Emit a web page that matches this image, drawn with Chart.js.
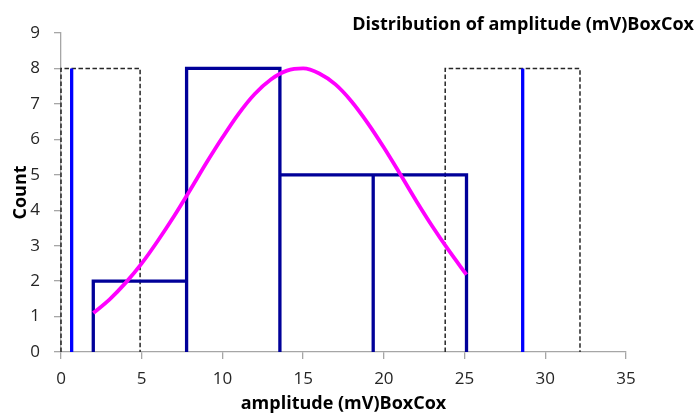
<!DOCTYPE html>
<html><head><meta charset="utf-8">
<script src="https://cdn.jsdelivr.net/npm/chart.js@4.4.0/dist/chart.umd.min.js"></script>
<style>html,body{margin:0;padding:0;background:#fff;}</style>
</head><body>
<canvas id="c" width="699" height="415"></canvas>
<script>
// ---- data ----
const binEdges = [2.0, 7.78, 13.56, 19.34, 25.12];
const binCounts = [2, 8, 5, 5];
const markerLines = [0.66, 28.6];
const markerHeight = 8;
const dashBoxes = [[0, 4.9], [23.8, 32.15]];
const dashHeight = 8;
const curveX = [2.0, 3, 4, 5, 6, 7, 8, 9, 10, 11, 12, 13, 14, 15, 16, 17, 18, 19, 20, 21, 22, 23, 24, 25.12];
const curveY = [1.10, 1.48, 1.95, 2.50, 3.14, 3.83, 4.57, 5.33, 6.05, 6.72, 7.28, 7.69, 7.94, 8.0, 7.86, 7.55, 7.07, 6.46, 5.77, 5.03, 4.27, 3.55, 2.88, 2.18];
const xTicks = [0, 5, 10, 15, 20, 25, 30, 35];
const yTicks = [0, 1, 2, 3, 4, 5, 6, 7, 8, 9];
const chartTitle = 'Distribution of amplitude (mV)BoxCox';
const xTitle = 'amplitude (mV)BoxCox';
const yTitle = 'Count';

// ---- build paths ----
const histPath = [];
for (let i = 0; i < binCounts.length; i++) {
  if (i === 0) histPath.push({x: binEdges[0], y: 0});
  histPath.push({x: binEdges[i], y: binCounts[i]});
  histPath.push({x: binEdges[i + 1], y: binCounts[i]});
  histPath.push({x: binEdges[i + 1], y: 0});
}
const curve = curveX.map((x, i) => ({x, y: curveY[i]}));
const base = {pointRadius: 0, pointHoverRadius: 0, tension: 0, clip: false, fill: false, showLine: true, parsing: false};

const datasets = [];
datasets.push(Object.assign({}, base, {data: curve, borderColor: '#FF00FF', borderWidth: 3.8, cubicInterpolationMode: 'monotone'}));
markerLines.forEach(x => datasets.push(Object.assign({}, base, {data: [{x, y: 0}, {x, y: markerHeight}], borderColor: '#0000FF', borderWidth: 3.3})));
datasets.push(Object.assign({}, base, {data: histPath, borderColor: '#000099', borderWidth: 3.3}));
dashBoxes.forEach(b => datasets.push(Object.assign({}, base, {data: [{x: b[0], y: 0}, {x: b[0], y: dashHeight}, {x: b[1], y: dashHeight}, {x: b[1], y: 0}], borderColor: '#262626', borderWidth: 1.5, borderDash: [4.5, 2.5]})));

Chart.defaults.font.family = "'Open Sans', sans-serif";
Chart.defaults.color = '#262626';

new Chart(document.getElementById('c'), {
  type: 'scatter',
  data: {datasets},
  options: {
    responsive: false,
    animation: false,
    devicePixelRatio: 1,
    layout: {padding: {left: 0, right: 5, top: 0, bottom: 0}},
    plugins: {
      legend: {display: false},
      tooltip: {enabled: false},
      title: {display: true, text: chartTitle, align: 'end', color: '#000', font: {size: 18, weight: 'bold', lineHeight: 0.89}, padding: {top: 17, bottom: 0}}
    },
    scales: {
      x: {
        type: 'linear', min: 0, max: 35,
        afterBuildTicks: s => { s.ticks = xTicks.map(v => ({value: v})); },
        ticks: {font: {size: 17}, padding: 10, maxRotation: 0, color: '#262626'},
        grid: {display: true, drawOnChartArea: false, drawTicks: true, tickLength: 7, color: '#A6A6A6', lineWidth: 1.3},
        border: {display: true, color: '#A6A6A6', width: 1.3},
        title: {display: true, text: xTitle, color: '#000', font: {size: 18, weight: 'bold'}, padding: {top: 0, bottom: 0}},
        afterFit: s => { s.height = 63; }
      },
      y: {
        type: 'linear', min: 0, max: 9,
        afterBuildTicks: s => { s.ticks = yTicks.map(v => ({value: v})); },
        ticks: {font: {size: 17}, padding: 14, color: '#262626'},
        grid: {display: true, drawOnChartArea: false, drawTicks: true, tickLength: 7, color: '#A6A6A6', lineWidth: 1.3},
        border: {display: true, color: '#A6A6A6', width: 1.3},
        title: {display: true, text: yTitle, color: '#000', font: {size: 18, weight: 'bold'}, padding: {top: 10, bottom: 0}},
        afterFit: s => { s.width = 61; }
      },
      y2: {
        type: 'linear', position: 'right', min: 0, max: 9, display: true,
        ticks: {display: false}, grid: {display: false, drawTicks: false}, border: {display: false},
        afterFit: s => { s.width = 68; }
      }
    }
  }
});
</script>
</body></html>
